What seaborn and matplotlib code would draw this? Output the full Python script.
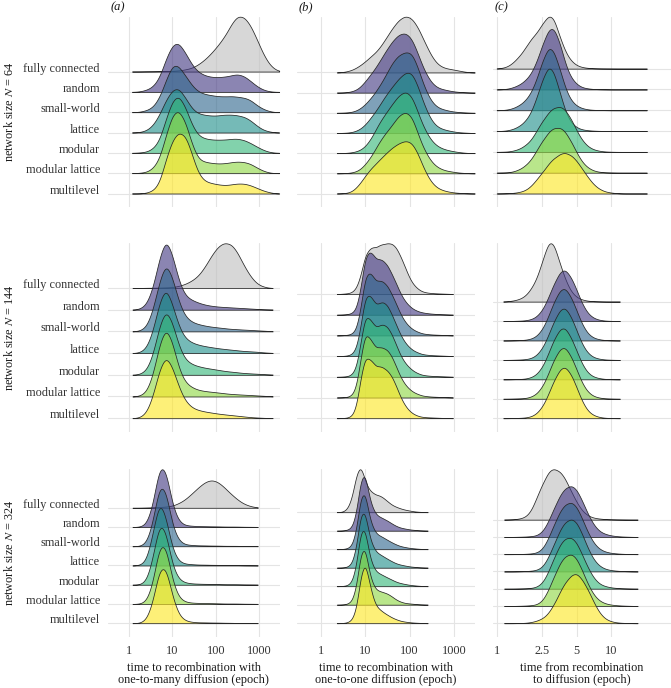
"""
Ridgeline densities of recombination / diffusion times by network structure
"""
import numpy as np
import matplotlib
matplotlib.use("Agg")
import matplotlib.pyplot as plt
import matplotlib.ticker as mticker
import matplotlib.transforms as mtransforms
import seaborn as sns

sns.set_style("white")
plt.rcParams["font.family"] = ["Liberation Serif", "DejaVu Serif"]
plt.rcParams["mathtext.fontset"] = "stix"
plt.rcParams["font.size"] = 8.8

networks = ["fully connected", "random", "small-world", "lattice",
            "modular", "modular lattice", "multilevel"]
sizes = [64, 144, 324]

epochs_many = [1.26, 1.78, 2.51, 3.55, 5.01, 7.08, 10, 14.1, 20, 28.2, 39.8, 56.2,
               79.4, 112, 158, 224, 316, 447, 631, 891, 1259, 1778, 2512]
epochs_one_64 = [2.51, 3.55, 5.01, 7.08, 10, 14.1, 20, 28.2, 39.8, 56.2, 79.4,
                 112, 158, 224, 316, 447, 631, 891, 1259, 1778, 2512]
epochs_one = [2.51, 3.16, 3.98, 5.01, 6.31, 7.94, 10, 12.6, 15.8, 20, 25.1, 31.6,
              39.8, 50.1, 63.1, 79.4, 100, 126, 158, 200, 251, 316, 398, 501,
              631, 794, 1000]
epochs_diff = [1, 1.12, 1.26, 1.41, 1.58, 1.78, 2, 2.24, 2.51, 2.82, 3.16, 3.55,
               3.98, 4.47, 5.01, 5.62, 6.31, 7.08, 7.94, 8.91, 10, 11.2, 12.6,
               14.1, 15.8]

# relative ridge heights, one list per network (same order as `networks`)
many_64 = [
    [0, 0, 0.5, 0.5, 1, 1, 2, 3, 6, 10, 20, 34, 52, 73, 98, 132, 158, 155, 130, 90, 47, 17, 3],
    [0, 1, 5, 13, 35, 85, 122, 128, 100, 68, 50, 42, 38, 37, 39, 42, 46, 41, 28, 14, 5, 1, 0],
    [0, 1, 5, 13, 38, 85, 128, 124, 97, 70, 54, 48, 45, 42, 42, 43, 41, 39, 33, 18, 8, 2, 0],
    [0, 1, 5, 17, 43, 80, 105, 110, 85, 57, 46, 43, 41, 41, 44, 44, 42, 39, 30, 16, 6, 2, 0],
    [0, 1, 3, 12, 35, 100, 155, 172, 135, 80, 50, 42, 39, 38, 39, 41, 42, 38, 29, 18, 8, 2, 0],
    [0, 1, 3, 13, 38, 104, 162, 176, 142, 77, 37, 31, 28, 26, 27, 30, 32, 31, 26, 15, 6, 1, 0],
    [0, 0, 2, 8, 28, 100, 155, 180, 170, 112, 55, 35, 30, 26, 24, 26, 29, 29, 24, 16, 8, 3, 0],
]
many_144 = [
    [0, 0, 0.5, 0.5, 1, 1.5, 2, 5, 10, 18, 30, 52, 80, 102, 113, 110, 88, 55, 28, 10, 3, 0, 0],
    [0, 2, 13, 55, 135, 190, 143, 72, 35, 25, 18, 13, 10, 8, 7, 6, 5, 4, 3, 2, 1, 0.5, 0],
    [0, 2, 12, 58, 140, 196, 150, 80, 40, 26, 20, 16, 13, 11, 9, 7, 6, 5, 4, 3, 2, 1, 0],
    [0, 2, 14, 62, 148, 195, 140, 75, 42, 30, 24, 20, 17, 14, 12, 10, 8, 6, 5, 4, 2, 1, 0],
    [0, 2, 12, 55, 140, 190, 148, 80, 42, 30, 24, 20, 17, 14, 11, 9, 7, 5, 4, 3, 2, 1, 0],
    [0, 2, 12, 58, 145, 196, 150, 75, 38, 25, 18, 15, 13, 11, 9, 7, 6, 5, 4, 3, 2, 1, 0],
    [0, 2, 15, 62, 140, 182, 145, 88, 48, 30, 23, 19, 16, 13, 11, 9, 7, 5, 3, 2, 1, 0.5, 0],
]
many_324 = [
    [0, 0, 0.5, 1, 2, 3, 5, 12, 22, 37, 53, 67, 73, 67, 53, 36, 21, 10, 4, 1, 0, 0, 0],
    [0, 0.5, 6, 50, 150, 138, 48, 12, 4, 3, 2, 2, 1.5, 1.5, 1, 1, 1, 0.5, 0.5, 0.3, 0, 0, 0],
    [0, 0.5, 7, 55, 152, 135, 45, 12, 4, 3, 2, 2, 1.5, 1.5, 1, 1, 1, 0.5, 0.5, 0.3, 0, 0, 0],
    [0, 1, 10, 75, 160, 115, 35, 9, 4, 3, 2, 2, 1.5, 1.5, 1, 1, 1, 0.5, 0.5, 0.3, 0, 0, 0],
    [0, 0.5, 8, 62, 155, 128, 42, 12, 5, 3, 2.5, 2, 2, 1.5, 1, 1, 1, 0.5, 0.5, 0.3, 0, 0, 0],
    [0, 0.5, 6, 48, 145, 142, 52, 14, 5, 3, 2.5, 2, 2, 1.5, 1, 1, 1, 0.5, 0.5, 0.3, 0, 0, 0],
    [0, 0.5, 8, 50, 135, 138, 62, 18, 6, 3, 2, 2, 1.5, 1.5, 1, 1, 0.5, 0.5, 0.3, 0.2, 0, 0, 0],
]
one_64 = [
    [0, 2, 7, 18, 33, 52, 70, 100, 133, 160, 174, 166, 136, 90, 47, 22, 13, 10, 6, 2, 0],
    [0, 0.5, 3, 10, 30, 54, 80, 110, 138, 158, 164, 148, 102, 55, 25, 12, 8, 4, 2, 1, 0],
    [0, 0.5, 2, 8, 22, 43, 68, 97, 133, 155, 163, 163, 118, 63, 28, 13, 8, 4, 2, 1, 0],
    [0, 0.5, 2, 8, 22, 47, 73, 103, 128, 152, 170, 172, 128, 72, 32, 15, 9, 5, 2, 1, 0],
    [0, 0.5, 2, 6, 17, 43, 80, 106, 132, 157, 170, 157, 107, 62, 32, 17, 10, 6, 3, 1, 0],
    [0, 0.5, 2, 7, 24, 50, 84, 110, 132, 160, 172, 160, 105, 60, 30, 15, 8, 5, 2, 1, 0],
    [0, 1, 5, 25, 55, 82, 102, 122, 142, 156, 165, 160, 122, 68, 32, 15, 8, 4, 2, 1, 0],
]
one_144 = [
    [0, 1, 2, 5, 17, 55, 120, 135, 141, 145, 148, 153, 152, 140, 112, 80, 47, 26, 14, 7, 4, 3, 2, 1.5, 1, 0.5, 0],
    [0, 0.5, 1.5, 4, 15, 70, 160, 172, 158, 150, 146, 135, 110, 84, 56, 36, 23, 14, 9, 6, 4, 3, 2, 1.5, 1, 0.5, 0],
    [0, 0.5, 1.5, 4, 16, 72, 162, 170, 152, 146, 144, 134, 110, 84, 56, 36, 23, 14, 9, 5, 3.5, 2.5, 2, 1.5, 1, 0.5, 0],
    [0, 0.5, 1.5, 5, 20, 80, 165, 165, 145, 140, 146, 138, 112, 84, 56, 36, 23, 14, 9, 5, 3.5, 2.5, 2, 1.5, 1, 0.5, 0],
    [0, 0.5, 1.5, 6, 25, 95, 174, 160, 142, 140, 145, 140, 118, 88, 58, 38, 25, 15, 9, 5, 3.5, 2.5, 2, 1.5, 1, 0.5, 0],
    [0, 0.5, 1.5, 6, 28, 110, 185, 165, 145, 140, 138, 134, 115, 86, 56, 36, 23, 14, 9, 5, 3.5, 2.5, 2, 1.5, 1, 0.5, 0],
    [0, 0.5, 1.5, 6, 30, 115, 176, 165, 152, 146, 142, 135, 118, 90, 58, 35, 20, 11, 6, 3.5, 2.5, 2, 1.5, 1, 0.5, 0.3, 0],
]
one_324 = [
    [0, 1, 8, 33, 93, 118, 75, 52, 45, 42, 36, 27, 18, 13, 9, 6, 4, 2, 1, 0.5, 0, 0, 0, 0, 0, 0, 0],
    [0, 0.5, 2, 7, 39, 125, 140, 72, 45, 34, 29, 24, 17, 11, 7, 5, 3, 2, 1, 0.5, 0, 0, 0, 0, 0, 0, 0],
    [0, 0.5, 2, 8, 42, 128, 138, 70, 44, 33, 28, 22, 16, 11, 7, 5, 3, 2, 1, 0.5, 0, 0, 0, 0, 0, 0, 0],
    [0, 0.5, 2, 9, 45, 132, 135, 68, 44, 33, 27, 21, 15, 10, 7, 5, 3, 2, 1, 0.5, 0, 0, 0, 0, 0, 0, 0],
    [0, 0.5, 2, 9, 45, 132, 135, 65, 40, 30, 25, 20, 15, 10, 7, 5, 3, 2, 1, 0.5, 0, 0, 0, 0, 0, 0, 0],
    [0, 0.5, 2, 8, 40, 128, 142, 70, 42, 33, 30, 27, 20, 12, 7, 4, 3, 2, 1, 0.5, 0, 0, 0, 0, 0, 0, 0],
    [0, 0.5, 2, 8, 35, 125, 165, 100, 55, 38, 29, 22, 15, 10, 6, 4, 2.5, 1.5, 1, 0.5, 0, 0, 0, 0, 0, 0, 0],
]
diff_64 = [
    [0.5, 2, 7, 19, 38, 63, 88, 103, 133, 158, 150, 93, 48, 22, 9, 4, 2, 1, 0.5, 0.3, 0.2, 0, 0, 0, 0],
    [0, 0.5, 2, 6, 13, 25, 42, 73, 120, 160, 165, 125, 65, 30, 13, 5, 2.5, 1, 0.5, 0.3, 0, 0, 0, 0, 0],
    [0, 0.5, 2, 6, 14, 27, 47, 82, 132, 170, 158, 110, 56, 25, 11, 5, 2, 1, 0.5, 0.3, 0, 0, 0, 0, 0],
    [0, 0.5, 2, 6, 14, 28, 50, 90, 140, 178, 160, 105, 50, 22, 9, 4, 2, 1, 0.5, 0.3, 0, 0, 0, 0, 0],
    [0, 0.5, 1, 4, 10, 22, 38, 68, 100, 126, 142, 147, 135, 105, 65, 35, 16, 7, 3, 1, 0.5, 0, 0, 0, 0],
    [0, 0.5, 1, 4, 11, 24, 42, 72, 104, 130, 145, 147, 132, 100, 62, 32, 15, 6, 2.5, 1, 0.5, 0, 0, 0, 0],
    [0, 0.3, 1, 2, 5, 11, 25, 47, 72, 98, 118, 132, 137, 128, 107, 80, 52, 28, 14, 6, 3, 1, 0, 0, 0],
]
diff_144 = [
    [0, 0, 1, 3, 7, 16, 35, 62, 112, 165, 160, 104, 58, 26, 11, 5, 2, 1, 0.5, 0, 0, 0, 0, 0, 0],
    [0, 0, 0, 0.5, 1, 2, 5, 13, 33, 68, 110, 145, 153, 128, 88, 47, 20, 8, 3, 1, 0.5, 0, 0, 0, 0],
    [0, 0, 0, 0.5, 1, 2, 5, 13, 34, 70, 115, 150, 157, 128, 85, 44, 18, 7, 3, 1, 0.5, 0, 0, 0, 0],
    [0, 0, 0, 0.5, 1, 2, 5, 14, 36, 72, 116, 150, 158, 128, 84, 43, 18, 7, 3, 1, 0.5, 0, 0, 0, 0],
    [0, 0, 0, 0.5, 1, 2, 6, 15, 38, 76, 120, 152, 156, 124, 82, 42, 17, 7, 3, 1, 0.5, 0, 0, 0, 0],
    [0, 0, 0, 0.5, 1, 2, 6, 15, 37, 74, 118, 150, 156, 126, 84, 43, 18, 7, 3, 1, 0.5, 0, 0, 0, 0],
    [0, 0, 0, 0.5, 1, 2, 5, 14, 35, 70, 113, 146, 155, 130, 88, 46, 19, 8, 3, 1, 0.5, 0, 0, 0, 0],
]
diff_324 = [
    [0, 0, 0.5, 1, 3, 8, 25, 65, 105, 140, 150, 142, 118, 82, 48, 24, 11, 5, 3, 1.5, 1, 0.5, 0.3, 0, 0],
    [0, 0, 0, 0, 0.5, 1, 2, 4, 15, 43, 82, 118, 140, 148, 133, 100, 62, 32, 15, 8, 4, 2, 1, 0.5, 0],
    [0, 0, 0, 0, 0.5, 1, 2, 4, 15, 45, 86, 124, 146, 153, 136, 100, 60, 30, 14, 7, 3.5, 2, 1, 0.5, 0],
    [0, 0, 0, 0, 0.5, 1, 2, 4, 13, 40, 80, 120, 146, 155, 142, 106, 64, 32, 15, 7, 3.5, 2, 1, 0.5, 0],
    [0, 0, 0, 0, 0.5, 1, 2, 5, 17, 48, 90, 128, 148, 151, 132, 96, 58, 29, 13, 7, 3.5, 2, 1, 0.5, 0],
    [0, 0, 0, 0, 0.5, 1, 2, 4, 15, 45, 86, 124, 146, 153, 136, 100, 60, 30, 14, 7, 3.5, 2, 1, 0.5, 0],
    [0, 0, 0, 0, 0.5, 1, 3, 7, 14, 28, 55, 90, 120, 140, 145, 125, 95, 58, 28, 12, 5, 2, 1, 0.5, 0],
]

# observed min / max time in each panel (epochs), rows N = 64, 144, 324
range_many = [(1.17, 2900), (1.2, 2050), (1.2, 930)]
range_one = [(2.3, 2950), (2.3, 950), (2.3, 257)]
range_diff = [(1.0, 20.4), (1.14, 11.9), (1.16, 17)]

x_titles = ["time to recombination with\none-to-many diffusion (epoch)",
            "time to recombination with\none-to-one diffusion (epoch)",
            "time from recombination\nto diffusion (epoch)"]

# styling
colors = ["#bfbfbf", "#443A83", "#31688E", "#21908C", "#35B779", "#8FD744", "#FDE725"]
line_color = "#262626"
grid_color = "#e4e4e4"
text_color = "#333333"

grids = [[epochs_many] * 3, [epochs_one_64, epochs_one, epochs_one], [epochs_diff] * 3]
heights = [[many_64, many_144, many_324], [one_64, one_144, one_324],
           [diff_64, diff_144, diff_324]]
ranges = [range_many, range_one, range_diff]
# kernel width in decades, per panel
bandwidths = [[0.1] * 3, [0.1, 0.066, 0.066], [0.033] * 3]
xticks = [[1, 10, 100, 1000], [1, 10, 100, 1000], [1, 2.5, 5, 10]]
xticklabels = [["1", "10", "100", "1000"], ["1", "10", "100", "1000"], ["1", "2.5", "5", "10"]]
xlims = [(0.333, 2950), (0.292, 2985), (0.929, 33.2)]
tags = ["(a)", "(b)", "(c)"]

FW, FH = 671, 688
row_px = [(16.7, 207.0), (243.3, 431.7), (469.3, 636.7)]
col_px = [(108.3, 279.5), (297.0, 475.0), (493.0, 671.0)]
gap_px = 13.5
ridge_scale = 3.0

fig = plt.figure(figsize=(FW / 100, FH / 100), dpi=100)

for c in range(3):
    for r in range(3):
        x0, x1 = col_px[c]
        y0, y1 = row_px[r]
        ax = fig.add_axes([x0 / FW, 1 - y1 / FH, (x1 - x0) / FW, (y1 - y0) / FH])
        grid = grids[c][r]
        lo, hi = ranges[c][r]
        clip = (np.log10(lo), np.log10(hi))
        bw = bandwidths[c][r]

        ridges = []
        for color, h in zip(colors, heights[c][r]):
            factor = float(bw / np.sqrt(np.cov(np.log10(grid), aweights=h)))
            sns.kdeplot(x=grid, weights=h, ax=ax, log_scale=True, bw_method=factor,
                        cut=200, clip=clip, gridsize=400, fill=True, color=color,
                        alpha=0.62, edgecolor=line_color, linewidth=0.55,
                        warn_singular=False)
            ridges.append(ax.collections[-1])

        # joint height scaling, like ggridges: tallest ridge spans 3 rows
        peaks = [coll.get_paths()[0].vertices[:, 1].max() for coll in ridges]
        s = ridge_scale / max(peaks)
        pos = [len(networks) - 1 - k for k in range(len(networks))]
        top = max(p + s * pk for p, pk in zip(pos, peaks))
        for coll, p in zip(ridges, pos):
            coll.set_transform(mtransforms.Affine2D().scale(1, s).translate(0, p) + ax.transData)
            coll.set_clip_on(False)

        spacing = ((y1 - y0) - gap_px) / top
        ax.set_ylim(-gap_px / spacing, top)
        ax.set_xlim(*xlims[c])
        ax.set(xlabel="", ylabel="")

        ax.set_yticks(pos)
        if c == 0:
            ax.set_yticklabels(networks, color=text_color, fontsize=8.8)
            for lab in ax.get_yticklabels():
                lab.set_va("baseline")
        else:
            ax.set_yticklabels([])
        ax.set_xticks(xticks[c])
        ax.xaxis.set_minor_locator(mticker.NullLocator())
        if r == 2:
            ax.set_xticklabels(xticklabels[c], color=text_color, fontsize=8.8)
        else:
            ax.set_xticklabels([])
        ax.tick_params(length=0, pad=6)
        ax.tick_params(axis="x", pad=6)
        ax.grid(True, color=grid_color, linewidth=0.8)
        ax.set_axisbelow(True)
        for sp in ax.spines.values():
            sp.set_visible(False)
        ax.patch.set_alpha(0)

    fig.text((col_px[c][0] + 2) / FW, 1 - 7.5 / FH, tags[c], style="italic",
             ha="left", va="center", fontsize=9, color="#1a1a1a")
    fig.text((col_px[c][0] + col_px[c][1]) / 2 / FW, 1 - 673.8 / FH, x_titles[c],
             ha="center", va="center", fontsize=8.8, linespacing=1.05, color="#1a1a1a")

for r, n in enumerate(sizes):
    yc = (row_px[r][0] + row_px[r][1]) / 2
    fig.text(10 / FW, 1 - yc / FH, r"network size $N$ = %d" % n, rotation=90,
             ha="center", va="center", fontsize=8.8, color="#1a1a1a")

fig.savefig("out.png", dpi=100)
plt.close(fig)
print("saved out.png")
